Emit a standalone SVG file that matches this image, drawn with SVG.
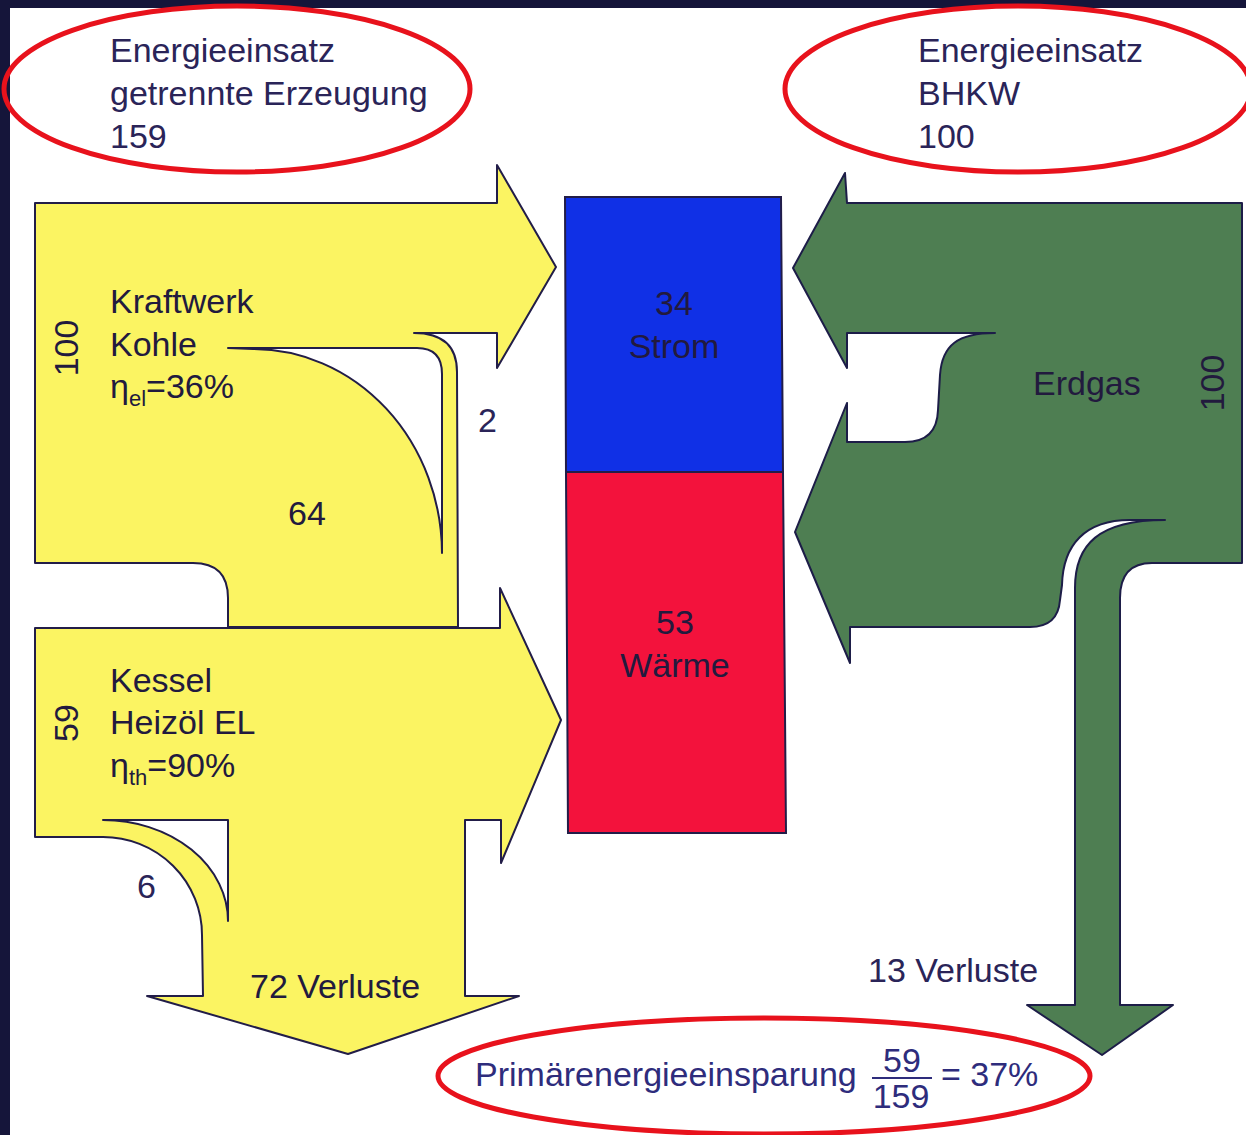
<svg xmlns="http://www.w3.org/2000/svg" width="1246" height="1135" viewBox="0 0 1246 1135">
<style>
.t{font-family:"Liberation Sans",Arial,sans-serif;font-size:34px;fill:#2a2458}
.d{fill:#221a3e}
.b{fill:#2e2c7c}
.ell{fill:none;stroke:#e8121c;stroke-width:5}
.yel{fill:#fbf462;stroke:#221d48;stroke-width:2;stroke-linejoin:round}
.hole{fill:#fff;stroke:#221d48;stroke-width:2;stroke-linejoin:round}
.grn{fill:#4e7e52;stroke:#1d1d48;stroke-width:2;stroke-linejoin:round}
</style>
<rect width="1246" height="1135" fill="#15153a"/>
<rect x="10" y="8" width="1236" height="1127" fill="#ffffff"/>

<g id="connectors">
  <g id="flow-kraftwerk">
    <path class="yel" d="M35,203 L497,203 L497,165 L556,267 L497,368 L497,333 L414,333 Q457,333 457,372 L458,627 L228,627 L228,598 Q228,563 193,563 L35,563 Z"/>
    <path class="hole" d="M228,348 L417,348 Q442,348 442,374 L442,553 A189,205 0 0 0 253,349 Z"/>
  </g>
  <g id="flow-kessel">
    <path class="yel" d="M35,628 L500,628 L500,588 L561,720 L501,863 L501,820 L465,820 L465,996 L519,996 L348,1054 L147,996 L203,996 L202,935 A99,98 0 0 0 103,837 L35,837 Z"/>
    <path class="hole" d="M103,820 L228,820 L228,921 A125,101 0 0 0 103,820 Z"/>
  </g>
  <g id="flow-bhkw">
    <path class="grn" d="M845,173 L847,203 L1242,203 L1242,563 L1152,563 Q1120,563 1120,598 L1120,1005 L1173,1005 L1102,1055 L1027,1005 L1075,1005 L1075,588 C1075,545 1098,520 1165,520 L1130,520 C1085,520 1063,545 1062,585 L1060,600 Q1058,627 1030,627 L850,627 L850,663 L795,532 L847,403 L847,442 L905,442 Q937,442 938,410 L940,375 C942,345 958,333 995,333 L847,333 L847,368 L793,268 Z"/>
  </g>
</g>

<g id="ellipse-getrennt">
  <ellipse class="ell" cx="237" cy="89" rx="233" ry="83"/>
  <text class="t" x="110" y="62">Energieeinsatz</text>
  <text class="t" x="110" y="105">getrennte Erzeugung</text>
  <text class="t" x="110" y="148">159</text>
</g>

<g id="ellipse-bhkw">
  <ellipse class="ell" cx="1018" cy="89" rx="233" ry="83"/>
  <text class="t" x="918" y="62">Energieeinsatz</text>
  <text class="t" x="918" y="105">BHKW</text>
  <text class="t" x="918" y="148">100</text>
</g>

<g id="node-strom">
  <polygon points="565,197 781,197 783,472 566,472" fill="#1030e6" stroke="#221d48" stroke-width="2"/>
  <text class="t d" x="674" y="315" text-anchor="middle">34</text>
  <text class="t d" x="674" y="358" text-anchor="middle">Strom</text>
</g>

<g id="node-waerme">
  <polygon points="566,472 783,472 786,833 568,833" fill="#f3123c" stroke="#221d48" stroke-width="2"/>
  <text class="t d" x="675" y="634" text-anchor="middle">53</text>
  <text class="t d" x="675" y="677" text-anchor="middle">Wärme</text>
</g>

<g id="label-kraftwerk">
  <text class="t d" x="110" y="313">Kraftwerk</text>
  <text class="t d" x="110" y="356">Kohle</text>
  <text class="t d" x="110" y="398">η<tspan font-size="22" dy="8">el</tspan><tspan dy="-8">=36%</tspan></text>
  <text class="t d" transform="translate(78,348) rotate(-90)" text-anchor="middle">100</text>
  <text class="t" x="478" y="432">2</text>
  <text class="t d" x="288" y="525">64</text>
</g>

<g id="label-kessel">
  <text class="t d" x="110" y="692">Kessel</text>
  <text class="t d" x="110" y="734">Heizöl EL</text>
  <text class="t d" x="110" y="777">η<tspan font-size="22" dy="8">th</tspan><tspan dy="-8">=90%</tspan></text>
  <text class="t d" transform="translate(78,723) rotate(-90)" text-anchor="middle">59</text>
  <text class="t" x="137" y="898">6</text>
  <text class="t d" x="250" y="998">72 Verluste</text>
</g>

<g id="label-bhkw">
  <text class="t d" x="1033" y="395">Erdgas</text>
  <text class="t d" transform="translate(1224,383) rotate(-90)" text-anchor="middle">100</text>
  <text class="t" x="868" y="982">13 Verluste</text>
</g>

<g id="ellipse-einsparung">
  <ellipse class="ell" cx="764" cy="1076" rx="326" ry="58"/>
  <text class="t b" x="475" y="1086">Primärenergieeinsparung</text>
  <text class="t b" x="902" y="1072" text-anchor="middle" font-size="30">59</text>
  <line x1="872" y1="1078" x2="932" y2="1078" stroke="#2e2c7c" stroke-width="2"/>
  <text class="t b" x="901" y="1108" text-anchor="middle" font-size="30">159</text>
  <text class="t b" x="941" y="1086">= 37%</text>
</g>
</svg>
